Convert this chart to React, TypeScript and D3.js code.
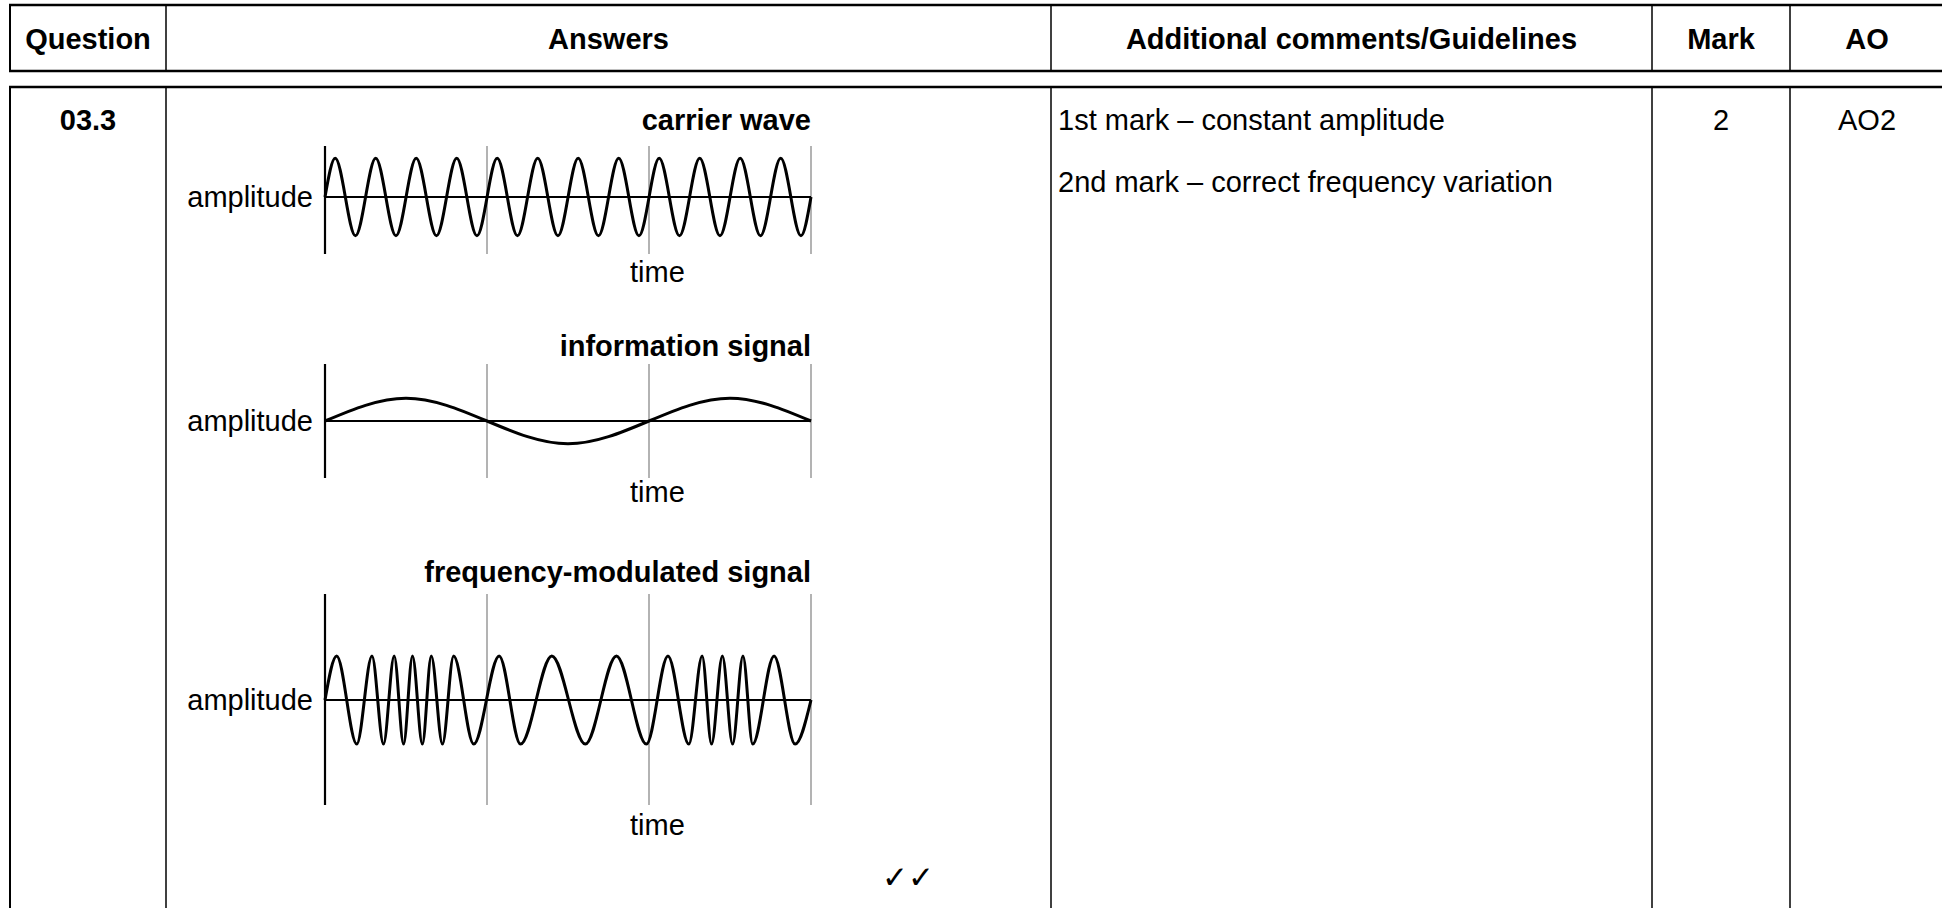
import * as d3 from "d3"

// table text
const headers = ["Question", "Answers", "Additional comments/Guidelines", "Mark", "AO"]
const questionNo = "03.3"
const guidelines = ["1st mark – constant amplitude", "2nd mark – correct frequency variation"]
const markValue = "2"
const aoValue = "AO2"
const ticks = "✓✓"

// diagram text
const panelTitles = ["carrier wave", "information signal", "frequency-modulated signal"]
const axisLabel = "amplitude"
const timeLabel = "time"
const gridTimes = [0, 1, 2, 3]

// wave turning points: time (grid units) and amplitude (fraction of axis half-height)
const carrierT = [0, 0.063, 0.188, 0.313, 0.438, 0.563, 0.688, 0.813, 0.938, 1.063, 1.188, 1.313, 1.438, 1.563, 1.688, 1.813, 1.938, 2.063, 2.188, 2.313, 2.438, 2.563, 2.688, 2.813, 2.938, 3]
const carrierA = [0, 0.68, -0.68, 0.68, -0.68, 0.68, -0.68, 0.68, -0.68, 0.68, -0.68, 0.68, -0.68, 0.68, -0.68, 0.68, -0.68, 0.68, -0.68, 0.68, -0.68, 0.68, -0.68, 0.68, -0.68, 0]

const infoT = [0, 0.5, 1.5, 2.5, 3]
const infoA = [0, 0.4, -0.4, 0.4, 0]

const fmT = [0, 0.072, 0.196, 0.29, 0.361, 0.427, 0.485, 0.54, 0.601, 0.656, 0.725, 0.794, 0.918, 1.075, 1.207, 1.4, 1.607, 1.799, 1.984, 2.117, 2.246, 2.328, 2.386, 2.453, 2.516, 2.58, 2.64, 2.772, 2.902, 3]
const fmA = [0, 0.42, -0.42, 0.42, -0.42, 0.42, -0.42, 0.42, -0.42, 0.42, -0.42, 0.42, -0.42, 0.42, -0.42, 0.42, -0.42, 0.42, -0.42, 0.42, -0.42, 0.42, -0.42, 0.42, -0.42, 0.42, -0.42, 0.42, -0.42, 0]

const waves = [
  { t: carrierT, a: carrierA },
  { t: infoT, a: infoA },
  { t: fmT, a: fmA },
]

// layout
const W = 1942
const H = 908
const cols = [10, 166, 1051, 1652, 1790, 1944]
const headTop = 5
const headBottom = 71
const rowTop = 87
const rowTextY = 130
const panels = [
  { titleY: 130, top: 146, zero: 197, half: 57, bottom: 254, timeY: 282 },
  { titleY: 356, top: 364, zero: 421, half: 57, bottom: 478, timeY: 502 },
  { titleY: 582, top: 594, zero: 700, half: 105, bottom: 805, timeY: 835 },
]
const font = "'Liberation Sans', Arial, sans-serif"

export default function App() {
  const x = d3.scaleLinear().domain([0, 3]).range([325, 811])

  return (
    <svg width={W} height={H} style={{ position: "absolute", left: 0, top: 0, background: "#fff" }} fontFamily={font}>
      <rect width={W} height={H} fill="#fff" />

      {/* table rules */}
      {[headTop, headBottom, rowTop].map((y) => (
        <line key={y} x1={cols[0] - 1} x2={W} y1={y} y2={y} stroke="#000" strokeWidth={2.6} />
      ))}
      {cols.map((cx, i) => (
        <g key={cx}>
          <line x1={cx} x2={cx} y1={headTop} y2={headBottom} stroke="#000" strokeWidth={i === 0 ? 2 : 1.5} />
          <line x1={cx} x2={cx} y1={rowTop} y2={H} stroke="#000" strokeWidth={i === 0 ? 2 : 1.5} />
        </g>
      ))}

      {headers.map((h, i) => (
        <text key={h} x={(cols[i] + cols[i + 1]) / 2} y={49} textAnchor="middle" fontSize={29} fontWeight="bold">
          {h}
        </text>
      ))}

      <text x={(cols[0] + cols[1]) / 2} y={rowTextY} textAnchor="middle" fontSize={29} fontWeight="bold">
        {questionNo}
      </text>
      {guidelines.map((g, i) => (
        <text key={g} x={cols[2] + 7} y={rowTextY + i * 62} fontSize={29}>
          {g}
        </text>
      ))}
      <text x={(cols[3] + cols[4]) / 2} y={rowTextY} textAnchor="middle" fontSize={29}>
        {markValue}
      </text>
      <text x={(cols[4] + 1942) / 2 + 1} y={rowTextY} textAnchor="middle" fontSize={29}>
        {aoValue}
      </text>

      {/* wave diagrams */}
      {panels.map((p, i) => {
        const y = d3.scaleLinear().domain([-1, 1]).range([p.zero + p.half, p.zero - p.half])
        const line = d3
          .line<number>()
          .x((d) => x(waves[i].t[d]))
          .y((d) => y(waves[i].a[d]))
          .curve(d3.curveMonotoneX)
        const idx = d3.range(waves[i].t.length)
        return (
          <g key={i}>
            <text x={x(3)} y={p.titleY} textAnchor="end" fontSize={29} fontWeight="bold">
              {panelTitles[i]}
            </text>
            {gridTimes.map((t) => (
              <line
                key={t}
                x1={x(t)}
                x2={x(t)}
                y1={p.top}
                y2={p.bottom}
                stroke={t === 0 ? "#000" : "#8a8a8a"}
                strokeWidth={t === 0 ? 2.2 : 1.3}
              />
            ))}
            <line x1={x(0)} x2={x(3)} y1={y(0)} y2={y(0)} stroke="#000" strokeWidth={2.2} />
            <path d={line(idx) || ""} fill="none" stroke="#000" strokeWidth={3} strokeLinejoin="round" />
            <text x={x(0) - 12} y={y(0) + 10} textAnchor="end" fontSize={29}>
              {axisLabel}
            </text>
            <text x={630} y={p.timeY} fontSize={29}>
              {timeLabel}
            </text>
          </g>
        )
      })}

      <text x={882} y={888} fontSize={31} fontFamily="'DejaVu Sans', sans-serif" fontWeight="bold">
        {ticks}
      </text>
    </svg>
  )
}
